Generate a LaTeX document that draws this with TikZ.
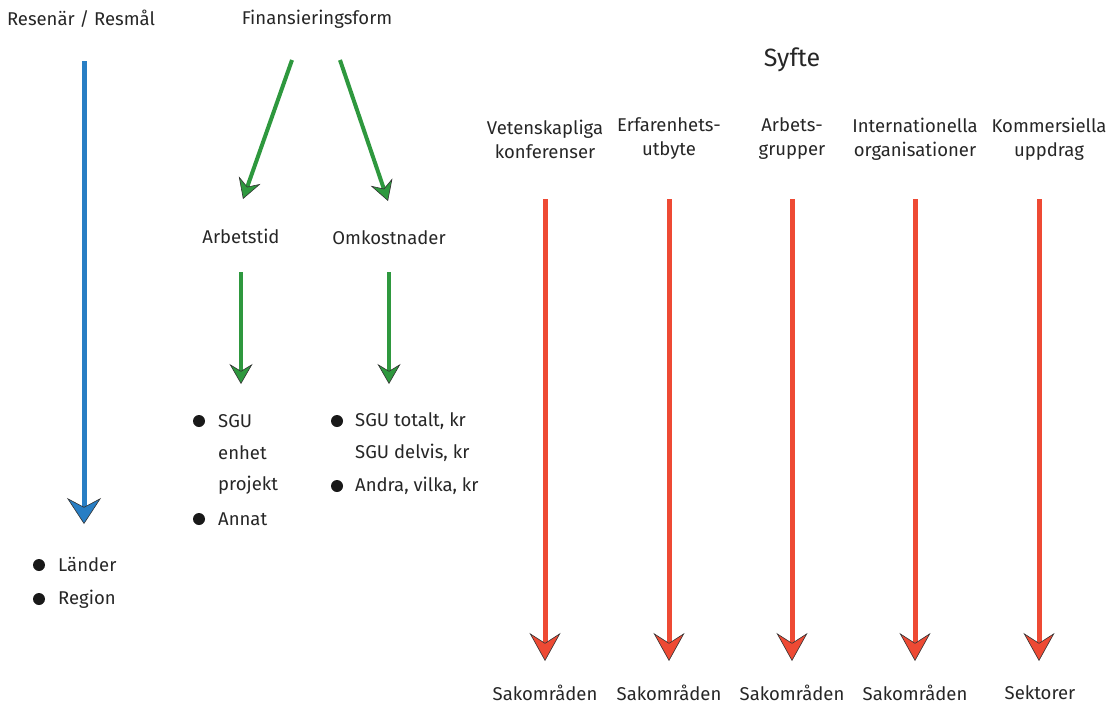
\documentclass[tikz,border=0pt]{standalone}
\usepackage{fontspec}
\setmainfont{Fira Sans}
\usetikzlibrary{arrows.meta}
\definecolor{cblue}{RGB}{40,126,196}
\definecolor{cgreen}{RGB}{46,152,62}
\definecolor{cred}{RGB}{238,74,52}
\definecolor{cedge}{RGB}{50,50,50}
\begin{document}
\begin{tikzpicture}[x=1pt,y=-1pt,
  lbl/.style={inner sep=0pt, font=\fontsize{18.5}{22}\selectfont, text=black!85},
  head/.style={inner sep=0pt, font=\fontsize{18.5}{24}\selectfont, text=black!85, align=center},
  item/.style={inner sep=0pt, anchor=west, font=\fontsize{18.5}{22}\selectfont, text=black!85},
  dot/.style={circle, fill=black!90, inner sep=0pt, minimum size=12pt},
  bluearrow/.style={draw=cblue, line width=5pt, -{Stealth[length=26pt, width=34pt, inset=9pt, fill=cblue, color=cedge, line width=0.6pt]}},
  greenarrow/.style={draw=cgreen, line width=4pt, -{Stealth[length=20pt, width=23pt, inset=7pt, fill=cgreen, color=cedge, line width=0.6pt]}},
  redarrow/.style={draw=cred, line width=5pt, -{Stealth[length=28pt, width=31pt, inset=10pt, fill=cred, color=cedge, line width=0.6pt]}}
]
\useasboundingbox (0,0) rectangle (1114,704);

% top headings
\node[lbl] (resenar) at (81,19) {Resenär / Resmål};
\node[lbl] (finans) at (317,19) {Finansieringsform};
\node[lbl, font=\fontsize{25}{30}\selectfont] (syfte) at (792,60) {Syfte};

% blue arrow
\coordinate (b1) at (84,61);
\coordinate (b2) at (84,524);
\draw[bluearrow] (b1) -- (b2);
\node[dot] (d1) at (39,565) {};
\node[item] (lander) at (58,565) {Länder};
\node[dot] (d2) at (39,599) {};
\node[item] (region) at (58,599) {Region};

% green arrows
\coordinate (g1s) at (292,60);
\coordinate (g1e) at (243,199);
\coordinate (g2s) at (340,60);
\coordinate (g2e) at (388,201);
\draw[greenarrow] (g1s) -- (g1e);
\draw[greenarrow] (g2s) -- (g2e);
\node[lbl] (arbetstid) at (241,236) {Arbetstid};
\node[lbl] (omkost) at (389,238) {Omkostnader};
\coordinate (g3s) at (241,272);
\coordinate (g3e) at (241,384);
\coordinate (g4s) at (389,272);
\coordinate (g4e) at (389,384);
\draw[greenarrow] (g3s) -- (g3e);
\draw[greenarrow] (g4s) -- (g4e);

% left list
\node[dot] (d3) at (199,421) {};
\node[item] (sgu) at (218,421) {SGU};
\node[item] (enhet) at (218,453) {enhet};
\node[item] (projekt) at (218,485) {projekt};
\node[dot] (d4) at (199,519) {};
\node[item] (annat) at (218,519) {Annat};

% right list
\node[dot] (d5) at (337,421) {};
\node[item] (totalt) at (355,421) {SGU totalt, kr};
\node[item] (delvis) at (355,453) {SGU delvis, kr};
\node[dot] (d6) at (337,486) {};
\node[item] (andra) at (355,486) {Andra, vilka, kr};

% purpose columns
\node[head] (h1) at (545,139) {Vetenskapliga\\konferenser};
\node[head] (h2) at (669,139) {Erfarenhets-\\utbyte};
\node[head] (h3) at (792,139) {Arbets-\\grupper};
\node[head] (h4) at (915,139) {Internationella\\organisationer};
\node[head] (h5) at (1049,139) {Kommersiella\\uppdrag};

\foreach \x/\n in {545/1,669/2,792/3,915/4,1039/5}{
  \coordinate (r\n s) at (\x,199);
  \coordinate (r\n e) at (\x,661);
  \draw[redarrow] (r\n s) -- (r\n e);
}

\node[lbl] (s1) at (545,693) {Sakområden};
\node[lbl] (s2) at (669,693) {Sakområden};
\node[lbl] (s3) at (792,693) {Sakområden};
\node[lbl] (s4) at (915,693) {Sakområden};
\node[lbl] (s5) at (1040,693) {Sektorer};
\end{tikzpicture}
\end{document}
